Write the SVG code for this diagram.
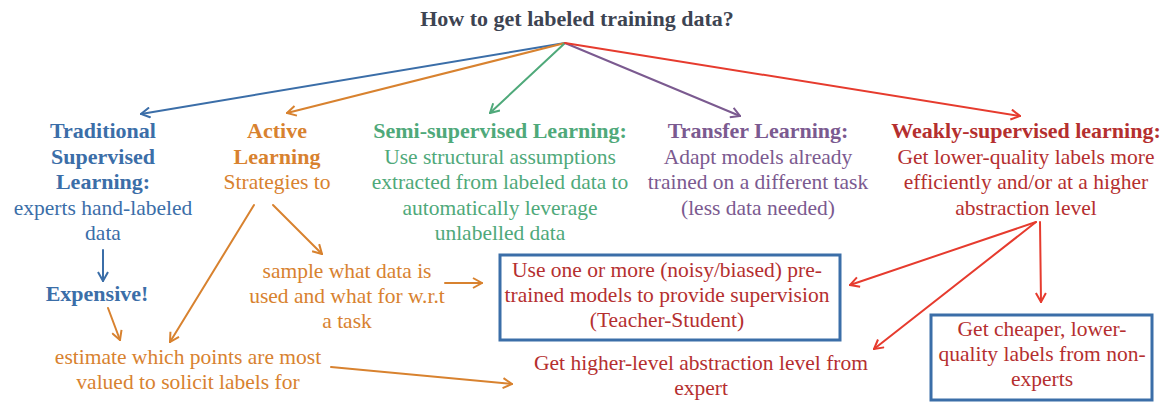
<svg xmlns="http://www.w3.org/2000/svg" width="1162" height="402" viewBox="0 0 1162 402">
<style>
text{font-family:"Liberation Serif","Times New Roman",serif;font-size:21.5px;text-anchor:middle}
.b{font-weight:bold;font-size:22px}
.blue{fill:#3b6ea8}.orange{fill:#d8822f}.green{fill:#4fa97a}.purple{fill:#7b5a90}.red{fill:#b52f2f}.dark{fill:#3d4452}
.c{fill:none;stroke-width:2;stroke-linecap:round}
.cb{stroke:#3b6ea8;marker-end:url(#mb)}.co{stroke:#d8822f;marker-end:url(#mo)}.cg{stroke:#4fa97a;marker-end:url(#mg)}.cp{stroke:#7b5a90;marker-end:url(#mp)}.cr{stroke:#e63b2e;marker-end:url(#mr)}
.box{fill:none;stroke:#3b6ea8;stroke-width:3}
</style>
<defs>
<marker id="mb" viewBox="0 0 12 12" refX="11" refY="6" markerWidth="12" markerHeight="12" markerUnits="userSpaceOnUse" orient="auto"><path d="M2,1 L11,6 L2,11" fill="none" stroke="#3b6ea8" stroke-width="2"/></marker>
<marker id="mo" viewBox="0 0 12 12" refX="11" refY="6" markerWidth="12" markerHeight="12" markerUnits="userSpaceOnUse" orient="auto"><path d="M2,1 L11,6 L2,11" fill="none" stroke="#d8822f" stroke-width="2"/></marker>
<marker id="mg" viewBox="0 0 12 12" refX="11" refY="6" markerWidth="12" markerHeight="12" markerUnits="userSpaceOnUse" orient="auto"><path d="M2,1 L11,6 L2,11" fill="none" stroke="#4fa97a" stroke-width="2"/></marker>
<marker id="mp" viewBox="0 0 12 12" refX="11" refY="6" markerWidth="12" markerHeight="12" markerUnits="userSpaceOnUse" orient="auto"><path d="M2,1 L11,6 L2,11" fill="none" stroke="#7b5a90" stroke-width="2"/></marker>
<marker id="mr" viewBox="0 0 12 12" refX="11" refY="6" markerWidth="12" markerHeight="12" markerUnits="userSpaceOnUse" orient="auto"><path d="M2,1 L11,6 L2,11" fill="none" stroke="#e63b2e" stroke-width="2"/></marker>
</defs>
<g id="connectors">
<path class="c cb" d="M565,43 L141,114"/>
<path class="c co" d="M565,43 L287,113"/>
<path class="c cg" d="M565,43 L490,113"/>
<path class="c cp" d="M565,43 L740,116"/>
<path class="c cr" d="M565,43 L1020,116"/>
<path class="c cb" d="M103,250 L103,281"/>
<path class="c co" d="M108,308 L120,340"/>
<path class="c co" d="M254,205 L170,342"/>
<path class="c co" d="M273,205 L322,254"/>
<path class="c co" d="M445,283 L482,283"/>
<path class="c co" d="M331,367 L512,384"/>
<path class="c cr" d="M1036,222 L850,285"/>
<path class="c cr" d="M1036,222 L874,349"/>
<path class="c cr" d="M1040,222 L1041,302"/>
</g>
<g id="title"><text class="b dark" x="577" y="26">How to get labeled training data?</text></g>
<g id="traditional">
<text class="b blue" x="103" y="138">Traditional</text>
<text class="b blue" x="103" y="164">Supervised</text>
<text class="b blue" x="103" y="189">Learning:</text>
<text class="blue" x="103" y="215">experts hand-labeled</text>
<text class="blue" x="103" y="240">data</text>
</g>
<g id="expensive"><text class="b blue" x="97" y="301">Expensive!</text></g>
<g id="active">
<text class="b orange" x="277" y="138">Active</text>
<text class="b orange" x="277" y="164">Learning</text>
<text class="orange" x="277" y="189">Strategies to</text>
</g>
<g id="semi">
<text class="b green" x="500" y="138">Semi-supervised Learning:</text>
<text class="green" x="500" y="164">Use structural assumptions</text>
<text class="green" x="500" y="189">extracted from labeled data to</text>
<text class="green" x="500" y="215">automatically leverage</text>
<text class="green" x="500" y="240">unlabelled data</text>
</g>
<g id="transfer">
<text class="b purple" x="758" y="138">Transfer Learning:</text>
<text class="purple" x="758" y="164">Adapt models already</text>
<text class="purple" x="758" y="189">trained on a different task</text>
<text class="purple" x="758" y="215">(less data needed)</text>
</g>
<g id="weakly">
<text class="b red" x="1026" y="138">Weakly-supervised learning:</text>
<text class="red" x="1026" y="164">Get lower-quality labels more</text>
<text class="red" x="1026" y="189">efficiently and/or at a higher</text>
<text class="red" x="1026" y="215">abstraction level</text>
</g>
<g id="sample">
<text class="orange" x="347" y="278">sample what data is</text>
<text class="orange" x="347" y="303">used and what for w.r.t</text>
<text class="orange" x="347" y="328">a task</text>
</g>
<g id="estimate">
<text class="orange" x="188" y="364">estimate which points are most</text>
<text class="orange" x="188" y="389">valued to solicit labels for</text>
</g>
<g id="teacher">
<rect class="box" x="500" y="255" width="340" height="85"/>
<text class="red" x="667" y="277">Use one or more (noisy/biased) pre-</text>
<text class="red" x="667" y="302">trained models to provide supervision</text>
<text class="red" x="667" y="327">(Teacher-Student)</text>
</g>
<g id="higher">
<text class="red" x="701" y="370">Get higher-level abstraction level from</text>
<text class="red" x="701" y="395">expert</text>
</g>
<g id="cheaper">
<rect class="box" x="931" y="315" width="221" height="85"/>
<text class="red" x="1042" y="336">Get cheaper, lower-</text>
<text class="red" x="1042" y="361">quality labels from non-</text>
<text class="red" x="1042" y="386">experts</text>
</g>
</svg>
